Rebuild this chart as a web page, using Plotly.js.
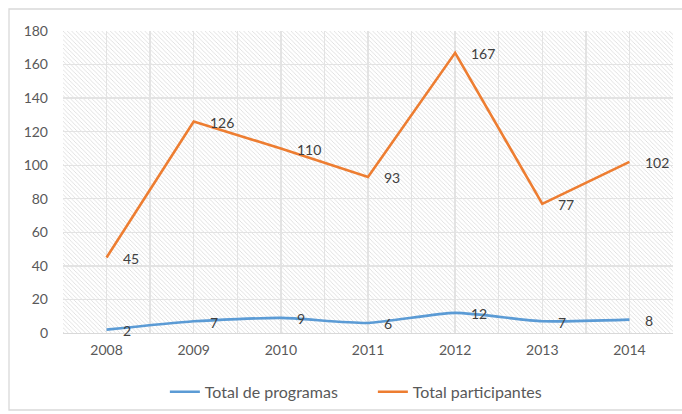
<!DOCTYPE html>
<html>
<head>
<meta charset="utf-8">
<script src="https://cdn.plot.ly/plotly-3.0.1.min.js"></script>
<style>
html,body{margin:0;padding:0;background:#fff;}
#chart{width:682px;height:414px;}
</style>
</head>
<body>
<div id="chart"></div>
<script>
const categories = ['2008','2009','2010','2011','2012','2013','2014'];
const totalProgramas = [2, 7, 9, 6, 12, 7, 8];
const totalParticipantes = [45, 126, 110, 93, 167, 77, 102];
const seriesNames = ['Total de programas', 'Total participantes'];

const idx = categories.map((c, i) => i);
const tickvals = [];
const ticktext = [];
for (let i = 0; i < categories.length; i++) {
  tickvals.push(i - 0.5); ticktext.push('');
  tickvals.push(i); ticktext.push(categories[i]);
}
tickvals.push(categories.length - 0.5); ticktext.push('');

const hatchSvg = '<svg xmlns="http://www.w3.org/2000/svg" width="610" height="302">' +
  '<defs><pattern id="p" patternUnits="userSpaceOnUse" width="4.3" height="4.3">' +
  '<path d="M-1,-1 L5.3,5.3 M-1,3.3 L1,5.3 M3.3,-1 L5.3,1" stroke="#dadada" stroke-width="0.8"/>' +
  '</pattern></defs><rect width="610" height="302" fill="url(#p)"/></svg>';
const hatchUri = 'data:image/svg+xml;charset=utf-8,' + encodeURIComponent(hatchSvg);

const font = 'Lato, "Open Sans", "Liberation Sans", sans-serif';

const traces = [
  {
    x: idx, y: totalProgramas, name: seriesNames[0],
    type: 'scatter', mode: 'lines',
    line: {color: '#5B9BD5', width: 2.6, shape: 'spline', smoothing: 0.6},
    hoverinfo: 'x+y'
  },
  {
    x: idx, y: totalParticipantes, name: seriesNames[1],
    type: 'scatter', mode: 'lines',
    line: {color: '#ED7D31', width: 2.6},
    hoverinfo: 'x+y'
  }
];

const annotations = [];
[totalProgramas, totalParticipantes].forEach(series => {
  series.forEach((v, i) => {
    annotations.push({
      x: idx[i], y: v, xref: 'x', yref: 'y', text: String(v),
      showarrow: false, xanchor: 'left', yanchor: 'middle',
      xshift: 14, yshift: -1,
      font: {family: font, size: 14, color: '#404040'}
    });
  });
});

const layout = {
  width: 682, height: 414,
  margin: {l: 63, r: 9, t: 31, b: 81, autoexpand: false},
  paper_bgcolor: '#ffffff', plot_bgcolor: 'rgba(0,0,0,0)',
  font: {family: font, size: 14, color: '#595959'},
  showlegend: true,
  legend: {
    orientation: 'h', x: 0.167, xanchor: 'left', y: -0.195, yanchor: 'middle',
    font: {family: font, size: 16, color: '#595959'},
    entrywidth: 163, entrywidthmode: 'pixels',
    tracegroupgap: 0, bgcolor: 'rgba(0,0,0,0)'
  },
  xaxis: {
    range: [-0.5, categories.length - 0.5],
    tickmode: 'array', tickvals: tickvals, ticktext: ticktext,
    showgrid: true, gridcolor: '#e3e3e3', gridwidth: 1.3,
    zeroline: false, showline: true, linecolor: '#d9d9d9', linewidth: 1.3,
    ticks: '', ticklen: 0, tickfont: {family: font, size: 14, color: '#595959'},
    ticklabelstandoff: 4, fixedrange: true
  },
  yaxis: {
    range: [0, 180], dtick: 20, tick0: 0,
    showgrid: true, gridcolor: '#e3e3e3', gridwidth: 1.3,
    zeroline: false, showline: false, ticks: '',
    tickfont: {family: font, size: 14, color: '#595959'},
    ticklabelstandoff: 14, fixedrange: true
  },
  annotations: annotations,
  images: [{
    source: hatchUri, xref: 'paper', yref: 'paper',
    x: 0, y: 1, sizex: 1, sizey: 1, xanchor: 'left', yanchor: 'top',
    sizing: 'stretch', layer: 'below'
  }],
  shapes: [{
    type: 'rect', xref: 'paper', yref: 'paper',
    x0: -54/610, x1: 1.02, y0: -77/302, y1: 1 + 22/302,
    line: {color: '#d9d9d9', width: 1.3}, fillcolor: 'rgba(0,0,0,0)', layer: 'below'
  }]
};

Plotly.newPlot('chart', traces, layout, {displayModeBar: false, staticPlot: true});
</script>
</body>
</html>
